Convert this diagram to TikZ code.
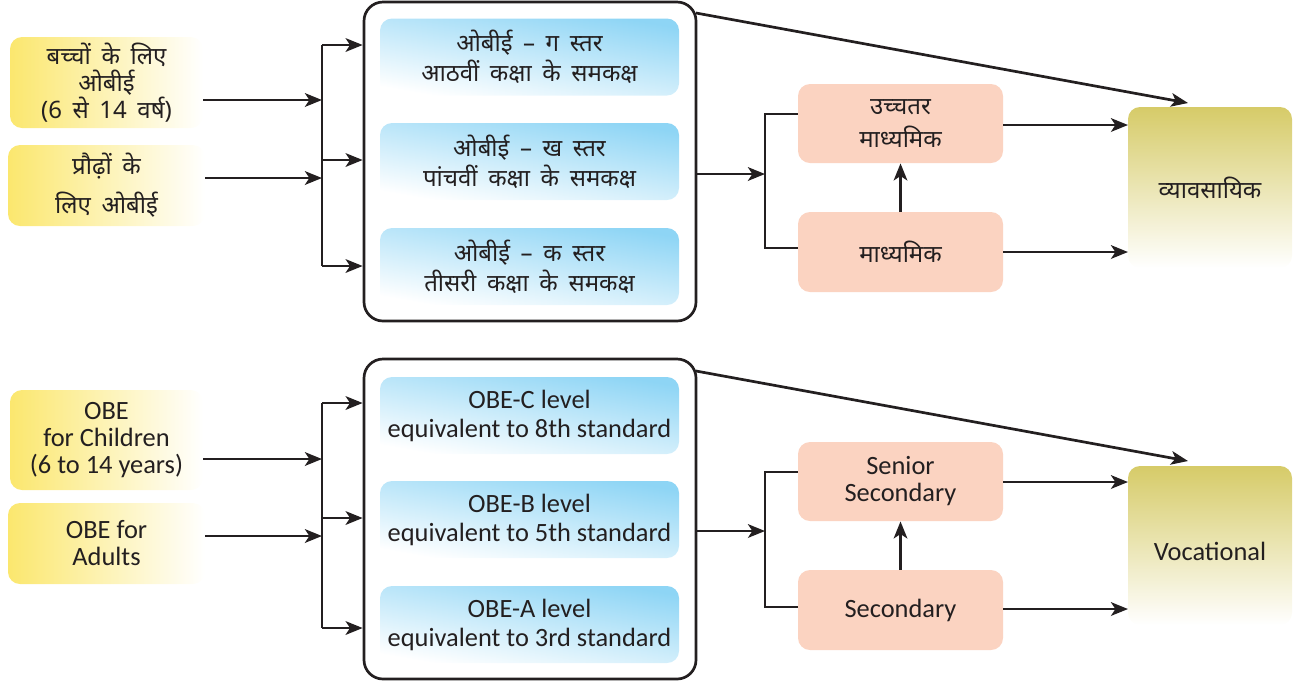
\documentclass[tikz,border=0pt]{standalone}
\usepackage{fontspec}
\setmainfont{Carlito}
\newfontfamily\hindi[Script=Devanagari, WordSpace=1.7]{Noto Sans}
\usetikzlibrary{arrows.meta}
\definecolor{txt}{HTML}{231F20}
\definecolor{yel}{HTML}{FBE76E}
\definecolor{blu}{HTML}{8ED5F5}
\definecolor{pnk}{HTML}{FBD3C1}
\definecolor{olv}{HTML}{D6CB68}
\tikzset{
  ybox/.style={rounded corners=6pt, left color=yel, right color=white, align=center, text=txt, inner sep=0pt},
  bbox/.style={rounded corners=6pt, top color=blu, bottom color=white, shading angle=-10, minimum width=149.5pt, minimum height=38.5pt, align=center, text=txt, inner sep=0pt},
  pbox/.style={rounded corners=6pt, fill=pnk, minimum width=102.5pt, minimum height=40pt, align=center, text=txt, inner sep=0pt},
  vbox/.style={rounded corners=6pt, top color=olv, bottom color=white, minimum width=82pt, align=center, text=txt, inner sep=0pt},
  bigbox/.style={draw=txt, line width=1.35pt, rounded corners=9.5pt, minimum width=166pt, minimum height=159.5pt, inner sep=0pt},
  arr/.style={draw=txt, line width=1.35pt, -{Stealth[length=8.5pt,width=6.8pt,inset=2.2pt]}},
  ln/.style={draw=txt, line width=1.35pt},
  en/.style={font=\fontsize{13.2}{14.5}\selectfont},
  enb/.style={font=\fontsize{13.2}{13.5}\selectfont},
  hi/.style={font=\hindi\fontsize{12}{15}\selectfont},
  hib/.style={font=\hindi\fontsize{12}{13.5}\selectfont}
}
\begin{document}
\begin{tikzpicture}[x=0.5pt,y=-0.5pt]
\useasboundingbox (0,0) rectangle (1294,682);
% ---------------- TOP (Hindi) ----------------
\node[ybox, hib, minimum width=96.5pt, minimum height=45.5pt] (y1) at (106.5,82.5) {बच्चों के लिए\\ओबीई\\(6 से 14 वर्ष)};
\node[ybox, hib, minimum width=98.5pt, minimum height=40.5pt] (y2) at (106.5,185.5) {प्रौढ़ों के\\[6pt]लिए ओबीई};
\node[bigbox] (g1) at (530,161.5) {};
\node[bbox, hi] (b1) at (529.5,57) {ओबीई – ग स्तर\\आठवीं कक्षा के समकक्ष};
\node[bbox, hi] (b2) at (529.5,161.5) {ओबीई – ख स्तर\\पांचवीं कक्षा के समकक्ष};
\node[bbox, hi] (b3) at (529.5,266.5) {ओबीई – क स्तर\\तीसरी कक्षा के समकक्ष};
\node[pbox, hib, minimum height=39.5pt] (p1) at (900.5,123.5) {उच्चतर\\[3pt]माध्यमिक};
\node[pbox, hi] (p2) at (900.5,252) {माध्यमिक};
\node[vbox, hi, minimum height=80.5pt] (v1) at (1210,187.5) {व्यावसायिक};
\coordinate (ja) at (322,100);
\coordinate (jb) at (322,178);
\coordinate (jt) at (322,45);
\coordinate (jm) at (322,160);
\coordinate (jl) at (322,266);
\draw[arr] (y1.east |- ja) -- (ja);
\draw[arr] (y2.east |- jb) -- (jb);
\draw[ln] (jt) -- (jl);
\draw[arr] (jt) -- (g1.west |- jt);
\draw[arr] (jm) -- (g1.west |- jm);
\draw[arr] (jl) -- (g1.west |- jl);
\coordinate (kc) at (765,174);
\coordinate (kt) at (765,114);
\coordinate (kb) at (765,248);
\draw[arr] (g1.east |- kc) -- (kc);
\draw[ln] (p1.west |- kt) -- (kt) -- (kb) -- (p2.west |- kb);
\draw[arr] (p2.north) -- (p1.south);
\coordinate (va) at (1128,125);
\coordinate (vb) at (1128,252);
\draw[arr] (p1.east |- va) -- (va);
\draw[arr] (p2.east |- vb) -- (vb);
\coordinate (ds) at (696,13);
\coordinate (de) at (1188,103);
\draw[arr] (ds) -- (de);
% ---------------- BOTTOM (English) ----------------
\node[ybox, enb, minimum width=96.5pt, minimum height=50pt] (y3) at (106.5,440) {OBE\\for Children\\(6 to 14 years)};
\node[ybox, enb, minimum width=98.5pt, minimum height=40.5pt] (y4) at (106.5,543.5) {OBE for\\Adults};
\node[bigbox, minimum height=160pt] (g2) at (530,519) {};
\node[bbox, en] (b4) at (529.5,415.5) {OBE-C level\\equivalent to 8th standard};
\node[bbox, en] (b5) at (529.5,519.5) {OBE-B level\\equivalent to 5th standard};
\node[bbox, en] (b6) at (529.5,624.5) {OBE-A level\\equivalent to 3rd standard};
\node[pbox, enb, minimum height=39.5pt] (p3) at (900.5,481.5) {Senior\\Secondary};
\node[pbox, en] (p4) at (900.5,610) {Secondary};
\node[vbox, en, minimum height=79.5pt] (v2) at (1210,545.5) {\raisebox{-3.2pt}[\height][\depth]{Vocational}};
\coordinate (ma) at (322,459);
\coordinate (mb) at (322,536);
\coordinate (mt) at (322,403);
\coordinate (mm) at (322,518);
\coordinate (ml) at (322,628);
\draw[arr] (y3.east |- ma) -- (ma);
\draw[arr] (y4.east |- mb) -- (mb);
\draw[ln] (mt) -- (ml);
\draw[arr] (mt) -- (g2.west |- mt);
\draw[arr] (mm) -- (g2.west |- mm);
\draw[arr] (ml) -- (g2.west |- ml);
\coordinate (nc) at (765,531);
\coordinate (nt) at (765,472);
\coordinate (nb) at (765,607);
\draw[arr] (g2.east |- nc) -- (nc);
\draw[ln] (p3.west |- nt) -- (nt) -- (nb) -- (p4.west |- nb);
\draw[arr] (p4.north) -- (p3.south);
\coordinate (wa) at (1128,482);
\coordinate (wb) at (1128,609);
\draw[arr] (p3.east |- wa) -- (wa);
\draw[arr] (p4.east |- wb) -- (wb);
\coordinate (es) at (696,371);
\coordinate (ee) at (1188,461);
\draw[arr] (es) -- (ee);
\end{tikzpicture}
\end{document}
